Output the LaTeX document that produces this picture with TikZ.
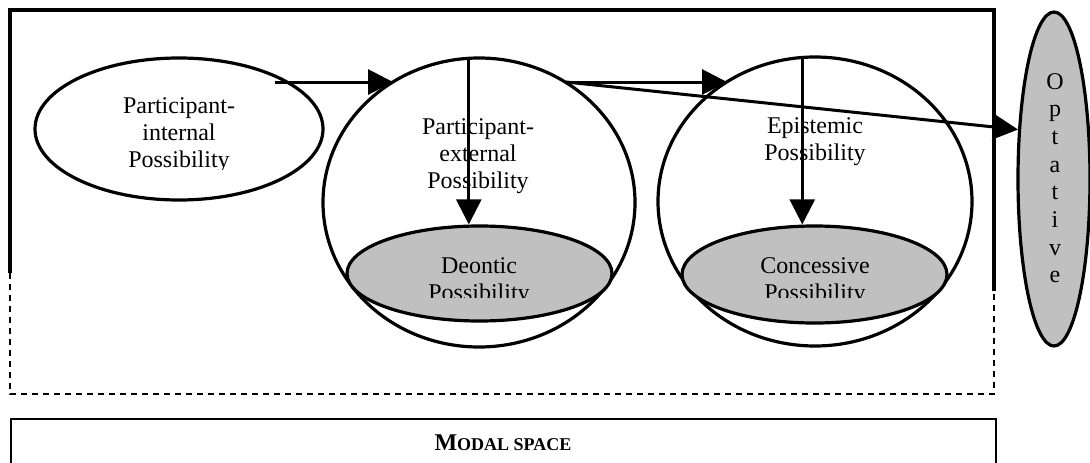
\documentclass[tikz,border=0pt]{standalone}
\usepackage{fontspec}
\setmainfont{Liberation Serif}
\usetikzlibrary{shapes.geometric,arrows.meta}
\definecolor{shade}{HTML}{C0C0C0}
\tikzset{
  oval/.style={ellipse, draw=black, line width=3.2pt, fill=white, inner sep=0pt},
  grayoval/.style={oval, fill=shade},
  arr/.style={line width=3pt, -{Triangle[length=25pt,width=25pt]}},
  lbl/.style={anchor=base, inner sep=0pt, font=\fontsize{24}{27.5}\selectfont},
  framebox/.style={line width=3.2pt},
  dashbox/.style={line width=2.4pt, dash pattern=on 6pt off 5pt},
}
\begin{document}
\begin{tikzpicture}[x=1pt,y=-1pt]
\clip (0,0) rectangle (1090,463);
\fill[white] (0,0) rectangle (1090,463);
% outer frame
\coordinate (fl) at (10,273);
\coordinate (ftl) at (10,10);
\coordinate (ftr) at (994,10);
\coordinate (fr) at (994,291);
\coordinate (fbl) at (10,394);
\coordinate (fbr) at (994,394);
\draw[framebox] (fl) -- (ftl) -- (ftr) -- (fr);
\draw[dashbox] (fl) -- (fbl) -- (fbr) -- (fr);
% modal space box
\node[draw, line width=1.8pt, minimum width=985pt, minimum height=60pt, inner sep=0pt, anchor=north west] (ms) at (10,418) {};
\node[anchor=base, inner sep=0pt, font=\bfseries] (mst) at (503,450) {\fontsize{24}{24}\selectfont M\fontsize{18}{18}\selectfont ODAL SPACE};
% ellipses
\node[oval, minimum width=288pt, minimum height=142pt] (pi) at (179,129) {};
\node[oval, minimum width=312pt, minimum height=289pt] (pe) at (479,202.5) {};
\node[oval, minimum width=314pt, minimum height=289pt] (ep) at (815,201.5) {};
\node[grayoval, minimum width=265pt, minimum height=95pt] (dp) at (479.5,273.5) {};
\node[grayoval, minimum width=265pt, minimum height=97pt] (cp) at (814.5,274.5) {};
\node[grayoval, minimum width=72pt, minimum height=334pt] (op) at (1054,179) {};
% texts
\begin{scope}
\clip (30,60) rectangle (330,169);
\node[lbl] (pi1) at (179,113) {Participant-};
\node[lbl] (pi2) at (179,140.5) {internal};
\node[lbl] (pi3) at (179,167) {Possibility};
\end{scope}
\node[lbl] (pe1) at (478,134) {Participant-};
\node[lbl] (pe2) at (478,161.5) {external};
\node[lbl] (pe3) at (478,188.5) {Possibility};
\node[lbl] (ep1) at (815,133) {Epistemic};
\node[lbl] (ep2) at (815,160.5) {Possibility};
\begin{scope}
\clip (350,230) rectangle (610,297);
\node[lbl] (dp1) at (479,273) {Deontic};
\node[lbl] (dp2) at (479,300.5) {Possibility};
\end{scope}
\begin{scope}
\clip (684,230) rectangle (946,297);
\node[lbl] (cp1) at (815,273) {Concessive};
\node[lbl] (cp2) at (815,300.5) {Possibility};
\end{scope}
\foreach \l [count=\i] in {O,p,t,a,t,i,v,e}
  \node[lbl] (op\i) at (1055,{89+27.7*(\i-1)}) {\l};
% arrows
\coordinate (a1s) at (275,82);
\coordinate (a1e) at (393,82);
\coordinate (a2s) at (566,82);
\coordinate (a2e) at (727,82);
\draw[arr] (a1s) -- (a1e);
\draw[arr] (a2s) -- (a2e);
\draw[arr] (a2s) -- (op.126);
\draw[arr, line width=2.7pt] (pe.94.7) -- (pe.94.7 |- dp.north);
\draw[arr, line width=2.7pt] (ep.95.2) -- (ep.95.2 |- cp.north);
\end{tikzpicture}
\end{document}
